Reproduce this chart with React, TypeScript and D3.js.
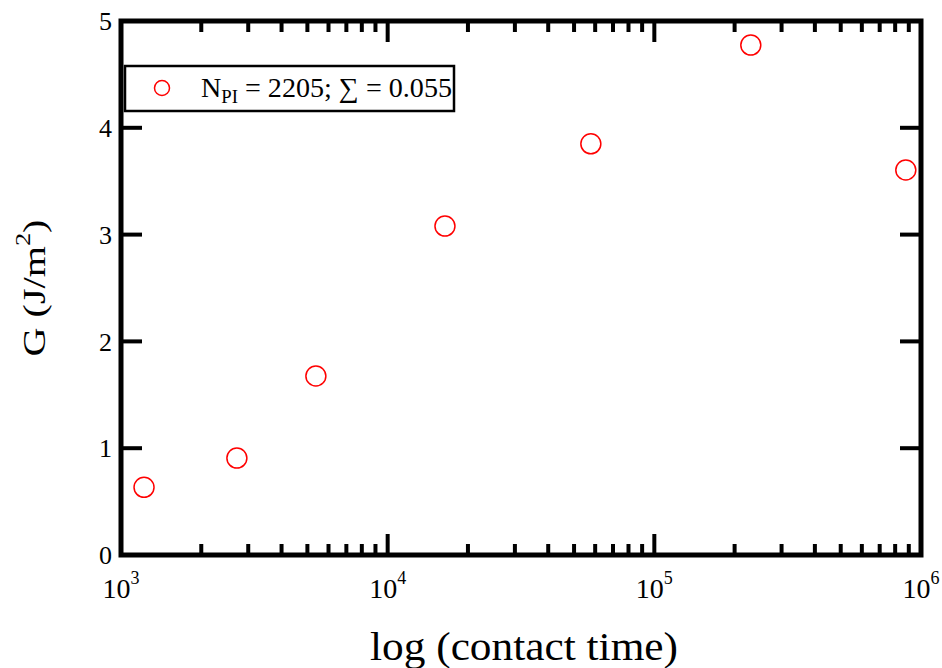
import React from "react";
import * as d3 from "d3";

const contactTimes = [1220, 2720, 5380, 16400, 57800, 230000, 877000];
const gValues = [0.634, 0.908, 1.676, 3.08, 3.85, 4.775, 3.605];
const yTicks = [0, 1, 2, 3, 4, 5];
const xMajorExps = [3, 4, 5, 6];
const legendLabel = { main: "N", sub: "PI", rest: " = 2205; \u2211 = 0.055" };

const W = 942;
const H = 668;
const L = 121, R = 921, T = 21, B = 555;
const FONT = "'Liberation Serif', 'Times New Roman', serif";

export default function App() {
  const x = d3.scaleLog().domain([1e3, 1e6]).range([L, R]);
  const y = d3.scaleLinear().domain([0, 5]).range([B, T]);

  const minors: number[] = [];
  for (let e = 3; e < 6; e++) {
    for (let m = 2; m <= 9; m++) minors.push(m * Math.pow(10, e));
  }
  const majors = xMajorExps.map((e) => Math.pow(10, e));

  return (
    <svg
      width={W}
      height={H}
      style={{ position: "absolute", left: 0, top: 0, background: "#fff" }}
      fontFamily={FONT}
    >
      <rect x={0} y={0} width={W} height={H} fill="#fff" />
      {minors.map((v, i) => (
        <g key={"mn" + i}>
          <line x1={x(v)} x2={x(v)} y1={B} y2={B - 11} stroke="#000" strokeWidth={4} />
          <line x1={x(v)} x2={x(v)} y1={T} y2={T + 11} stroke="#000" strokeWidth={4} />
        </g>
      ))}
      {majors.map((v, i) => (
        <g key={"mj" + i}>
          <line x1={x(v)} x2={x(v)} y1={B} y2={B - 21} stroke="#000" strokeWidth={4} />
          <line x1={x(v)} x2={x(v)} y1={T} y2={T + 21} stroke="#000" strokeWidth={4} />
          <text x={x(v)} y={598} textAnchor="middle" fontSize={28} fill="#000">
            10
            <tspan fontSize={18} dy={-14}>{xMajorExps[i]}</tspan>
          </text>
        </g>
      ))}
      {yTicks.map((v) => (
        <g key={"y" + v}>
          <line x1={L} x2={L + 21} y1={y(v)} y2={y(v)} stroke="#000" strokeWidth={4} />
          <line x1={R} x2={R - 21} y1={y(v)} y2={y(v)} stroke="#000" strokeWidth={4} />
          <text x={112} y={y(v)} dy="0.35em" textAnchor="end" fontSize={26} fill="#000">
            {v}
          </text>
        </g>
      ))}
      <rect x={L} y={T} width={R - L} height={B - T} fill="none" stroke="#000" strokeWidth={5} />

      {contactTimes.map((t, i) => (
        <circle
          key={"p" + i}
          cx={x(t)}
          cy={y(gValues[i])}
          r={10}
          fill="none"
          stroke="#ff0000"
          strokeWidth={1.5}
        />
      ))}

      <rect x={125} y={66} width={329} height={45} fill="#fff" stroke="#000" strokeWidth={2.5} />
      <circle cx={162} cy={88} r={7.5} fill="none" stroke="#ff0000" strokeWidth={1.5} />
      <text x={201} y={97} fontSize={27} fill="#000" textLength={251} lengthAdjust="spacingAndGlyphs">
        {legendLabel.main}
        <tspan fontSize={18} dy={6}>{legendLabel.sub}</tspan>
        <tspan dy={-6}>{legendLabel.rest}</tspan>
      </text>

      <text
        x={524}
        y={660}
        textAnchor="middle"
        fontSize={41}
        fill="#000"
        textLength={308}
        lengthAdjust="spacingAndGlyphs"
      >
        log (contact time)
      </text>
      <text
        transform={`translate(45, ${288}) rotate(-90)`}
        textAnchor="middle"
        fontSize={32}
        fill="#000"
        textLength={137}
        lengthAdjust="spacingAndGlyphs"
      >
        G (J/m<tspan fontSize={21} dy={-15}>2</tspan>
        <tspan dy={15}>)</tspan>
      </text>
    </svg>
  );
}
